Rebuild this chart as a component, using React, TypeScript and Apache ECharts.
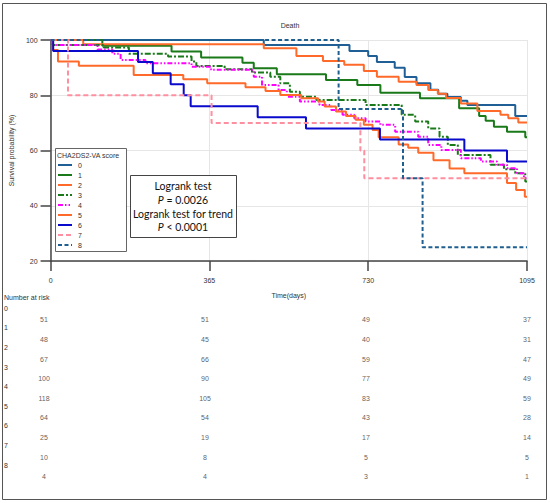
import React, { useEffect, useRef } from "react";
import * as echarts from "echarts";

const FONT = "Liberation Sans, Arial, sans-serif";

const groups = ["0", "1", "2", "3", "4", "5", "6", "7", "8"];
const colors = ["#1f5f96", "#1a7a1a", "#ff6a2a", "#1a7a1a", "#ff00ff", "#ff6a2a", "#0a0acc", "#ff8fa0", "#1f5f8f"];
const dashes: any[] = ["solid", "solid", "solid", [6, 2, 2, 2], [5, 2, 1.5, 2, 1.5, 2], "solid", "solid", [5, 3], [4, 2.5]];

// Kaplan-Meier steps: [day, survival %]
const km0 = [[0, 100], [490, 98.2], [687, 96], [730, 94.2], [750, 92], [791, 90], [814, 86.6], [841, 84.3], [873, 82], [891, 80.5], [912, 79.4], [943, 78], [958, 76.5], [1068, 72.5]];
const km1 = [[0, 100], [119, 97.9], [278, 95.8], [346, 93.7], [441, 91.8], [467, 89.8], [520, 87.6], [633, 85.5], [705, 83.7], [758, 80.9], [849, 78.9], [939, 75.3], [985, 72.5], [1000, 70.8], [1019, 68.6], [1049, 66.8], [1091, 64.8]];
const km2 = [[0, 100], [75, 98.5], [490, 97], [565, 94.2], [626, 92.4], [675, 91], [720, 88.8], [750, 86.7], [800, 84.9], [841, 83.7], [868, 81.9], [890, 80.5], [909, 79], [943, 77], [981, 74.3], [1034, 72.9], [1052, 71.7], [1075, 70.1]];
const km3 = [[0, 100], [3, 98.2], [122, 97.3], [180, 95], [270, 94], [324, 92.2], [335, 90.6], [400, 89.4], [463, 88.2], [505, 86.7], [528, 84.3], [550, 81.3], [573, 79.5], [611, 78.3], [724, 76.5], [807, 72.9], [838, 70.5], [868, 68], [894, 65], [913, 62], [936, 58.4], [1011, 54.8], [1042, 53.2], [1068, 51.8], [1091, 48.8]];
const km4 = [[0, 100], [3, 98.2], [108, 96.6], [142, 95], [161, 92.8], [218, 91.6], [324, 90.3], [369, 89.2], [467, 86.7], [486, 83.7], [524, 81.9], [543, 79.5], [573, 77.7], [618, 76.5], [645, 74.7], [671, 72.9], [698, 71.7], [724, 70.5], [758, 69.3], [792, 66.8], [845, 65], [868, 62], [898, 60.2], [943, 57.2], [989, 56], [1026, 54.8], [1049, 53.6], [1072, 51.8], [1088, 50]];
const km5 = [[0, 100], [5, 96.4], [17, 92.2], [65, 90.7], [191, 87.3], [305, 85.8], [360, 84.3], [448, 82.9], [494, 81.5], [528, 80.1], [576, 78.9], [615, 77.7], [630, 75.9], [656, 74.1], [679, 72.5], [701, 71.1], [720, 69.3], [740, 67.4], [754, 64.8], [800, 62.2], [822, 61], [845, 59.2], [880, 56.5], [917, 53.5], [951, 51.8], [1049, 48.2], [1070, 45.7], [1090, 43.3]];
const km6 = [[0, 100], [6, 96], [201, 92], [235, 88], [276, 84], [306, 80], [322, 76], [476, 72], [587, 68], [757, 64], [951, 60], [1049, 56]];
const km7 = [[0, 100], [40, 80], [370, 70], [712, 60], [721, 50]];
const km8 = [[0, 100], [662, 75], [810, 50], [855, 25]];
const curves = [km0, km1, km2, km3, km4, km5, km6, km7, km8];

// Number at risk
const riskTimes = [0, 365, 730, 1095];
const risk0 = [51, 51, 49, 37];
const risk1 = [48, 45, 40, 31];
const risk2 = [67, 66, 59, 47];
const risk3 = [100, 90, 77, 49];
const risk4 = [118, 105, 83, 59];
const risk5 = [64, 54, 43, 28];
const risk6 = [25, 19, 17, 14];
const risk7 = [10, 8, 5, 5];
const risk8 = [4, 4, 3, 1];
const risks = [risk0, risk1, risk2, risk3, risk4, risk5, risk6, risk7, risk8];

const legendTitle = "CHA2DS2-VA score";
const testLines = ["Logrank test", "{i|P} = 0.0026", "Logrank test for trend", "{i|P} < 0.0001"];

const axisColor = "#444";
const labelColor = "#333";

export default function App() {
  const ref = useRef<HTMLDivElement>(null);
  useEffect(() => {
    document.body.style.margin = "0";
    const chart = echarts.init(ref.current!, null, { renderer: "svg" });
    const lineSeries = curves.map((c, i) => ({
      name: groups[i],
      type: "line",
      step: "end",
      xAxisIndex: 0,
      yAxisIndex: 0,
      symbol: "none",
      data: [...c, [1095, c[c.length - 1][1]]],
      lineStyle: { color: colors[i], width: 2, type: dashes[i] },
      itemStyle: { color: colors[i] },
      z: 3,
    }));
    const riskData: any[] = [];
    risks.forEach((r, gi) => r.forEach((n, ti) => riskData.push([riskTimes[ti], gi, n])));

    const legendItems: any[] = [];
    groups.forEach((g, i) => {
      const y = 165 + 10 * i;
      legendItems.push({
        type: "line", z: 5, silent: true,
        shape: { x1: 58, y1: y, x2: 72, y2: y },
        style: { stroke: colors[i], lineWidth: 2, lineDash: Array.isArray(dashes[i]) ? dashes[i] : null },
      });
      legendItems.push({
        type: "text", z: 5, x: 78, y,
        style: { text: g, fontSize: 7, fill: labelColor, fontFamily: FONT, verticalAlign: "middle" },
      });
    });

    const testTexts = testLines.map((t, i) => ({
      type: "text", z: 7, x: 183, y: 186 + 13.8 * i,
      style: {
        text: t, align: "center", verticalAlign: "middle",
        fontSize: 10.5, fill: "#111", fontFamily: "Lato, " + FONT,
        rich: { i: { fontStyle: "italic", fontSize: 10.5, fontFamily: "Lato, " + FONT, fill: "#111" } },
      },
    }));

    const option: any = {
      animation: false,
      title: {
        text: "Death",
        left: 285,
        top: 17,
        textAlign: "center",
        textStyle: { fontSize: 7, fontWeight: "normal", color: labelColor, fontFamily: FONT },
      },
      grid: [
        { left: 44, right: 23, top: 40, height: 221 },
        { left: 44, right: 23, top: 310, height: 176.4 },
      ],
      xAxis: [
        {
          type: "value", gridIndex: 0, min: 0, max: 1095, interval: 365,
          name: "Time(days)", nameLocation: "middle", nameGap: 31,
          nameTextStyle: { fontSize: 7, color: labelColor, fontFamily: FONT },
          axisLine: { show: true, onZero: false, lineStyle: { color: axisColor, width: 1.5 } },
          axisTick: { show: true, length: 10, lineStyle: { color: axisColor, width: 1.5 } },
          axisLabel: { margin: 16, fontSize: 7, color: labelColor, fontFamily: FONT, formatter: (v: number) => String(v) },
          splitLine: { show: true, lineStyle: { color: "#e6e6e6", width: 1 } },
        },
        { type: "value", gridIndex: 1, min: 0, max: 1095, show: false },
      ],
      yAxis: [
        {
          type: "value", gridIndex: 0, min: 20, max: 100, interval: 20,
          name: "Survival probability (%)", nameLocation: "middle", nameGap: 30,
          nameTextStyle: { fontSize: 7, color: labelColor, fontFamily: FONT },
          axisLine: { show: true, onZero: false, lineStyle: { color: axisColor, width: 1.5 } },
          axisTick: { show: true, length: 10, lineStyle: { color: axisColor, width: 1.5 } },
          axisLabel: { margin: 13, fontSize: 7, color: labelColor, fontFamily: FONT },
          splitLine: { show: true, lineStyle: { color: "#e6e6e6", width: 1 } },
        },
        {
          type: "category", gridIndex: 1, data: groups, inverse: true,
          axisLine: { show: false }, axisTick: { show: false }, splitLine: { show: false },
          axisLabel: {
            show: true, align: "left", margin: 40, verticalAlign: "bottom", padding: [0, 0, 8, 0],
            fontSize: 7, color: labelColor, fontFamily: FONT,
          },
        },
      ],
      series: [
        ...lineSeries,
        {
          type: "scatter",
          name: "risk",
          xAxisIndex: 1,
          yAxisIndex: 1,
          symbol: "circle",
          symbolSize: 1,
          itemStyle: { color: "rgba(0,0,0,0)" },
          data: riskData,
          label: {
            show: true, position: "inside",
            formatter: (p: any) => String(p.value[2]),
            fontSize: 7, color: labelColor, fontFamily: FONT,
          },
        },
      ],
      graphic: [
        { type: "rect", z: 0, silent: true, shape: { x: 2.5, y: 3.5, width: 544, height: 496 }, style: { fill: "none", stroke: "#555", lineWidth: 1 } },
        { type: "rect", z: 4, silent: true, shape: { x: 55.5, y: 148.5, width: 71, height: 103 }, style: { fill: "#fff", stroke: "#666", lineWidth: 1 } },
        { type: "text", z: 5, x: 57, y: 155, style: { text: legendTitle, fontSize: 7, fill: labelColor, fontFamily: FONT, verticalAlign: "middle" } },
        ...legendItems,
        { type: "text", z: 5, x: 4, y: 297, style: { text: "Number at risk", fontSize: 7, fill: labelColor, fontFamily: FONT, verticalAlign: "middle" } },
        { type: "rect", z: 6, silent: true, shape: { x: 130.5, y: 175.5, width: 106, height: 62 }, style: { fill: "#fff", stroke: "#444", lineWidth: 1 } },
        ...testTexts,
      ],
    };
    chart.setOption(option);
    return () => chart.dispose();
  }, []);
  return <div ref={ref} style={{ width: 550, height: 503 }} />;
}
